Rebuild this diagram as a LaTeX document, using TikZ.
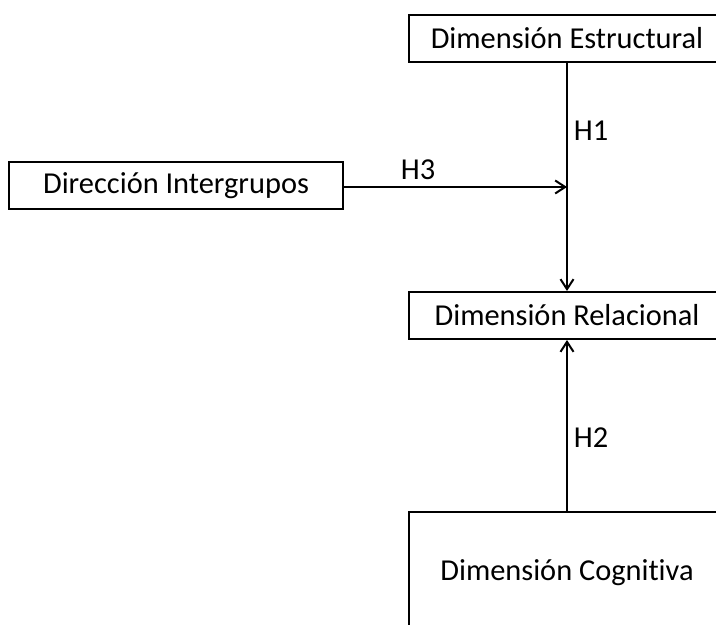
\documentclass[tikz,border=0pt]{standalone}
\usepackage{fontspec}
\setmainfont{Carlito}[Ligatures=NoCommon]
\usetikzlibrary{arrows.meta}
\tikzset{
  box/.style={draw, line width=1pt, inner sep=0pt, align=center},
  link/.style={line width=1pt, -{Straight Barb[length=5pt,width=6.5pt,line width=1pt]}},
  hyp/.style={inner sep=0pt}
}
\begin{document}
\begin{tikzpicture}[x=0.5pt,y=-0.5pt,font=\fontsize{15.2}{18}\selectfont]
\useasboundingbox (0,0) rectangle (716,625);
\clip (0,0) rectangle (716,625);
% construct boxes (right edges run past the page edge)
\node[box, minimum width=158pt, minimum height=23.5pt] (es) at (567,38.5) {Dimensión Estructural};
\node[box, minimum width=158pt, minimum height=23.5pt] (re) at (567,315.5) {Dimensión Relacional};
\node[box, minimum width=158pt, minimum height=61pt] (co) at (567,573) {Dimensión Cognitiva};
\node[box, minimum width=167pt, minimum height=23.5pt] (di) at (176,185.5) {Dirección Intergrupos};
% moderation point on the H1 path
\coordinate (j) at (567,187);
% hypothesised effects
\draw[link] (es.south) -- (re.north);
\draw[link] (co.north) -- (re.south);
\draw[link] (di.east |- j) -- (j);
% labels
\node[hyp] (h1) at (591,131) {H1};
\node[hyp] (h2) at (591,438) {H2};
\node[hyp] (h3) at (418,170) {H3};
\end{tikzpicture}
\end{document}
